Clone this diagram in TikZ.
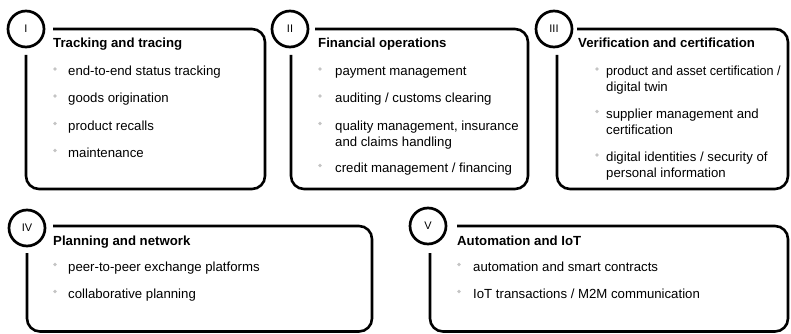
\documentclass[tikz,border=0pt]{standalone}
\usepackage{fontspec}
\usepackage{graphicx}
\setmainfont{Liberation Sans}
\definecolor{dotgrey}{HTML}{C4C4C4}
\newcommand\twolines[2]{\vtop{\hbox{\strut #1}\hbox{\strut #2}}}
\begin{document}
\begin{tikzpicture}[x=1pt,y=-1pt,
  frame/.style={line width=2.6pt, rounded corners=13pt},
  numcirc/.style={circle, draw, line width=2.7pt, minimum size=36pt, inner sep=0pt,
    font=\fontsize{11}{12}\selectfont},
  title/.style={anchor=base west, inner sep=0pt, font=\fontsize{13.2}{16}\selectfont\bfseries},
  item/.style={anchor=base west, inner sep=0pt, font=\fontsize{13.2}{16}\selectfont},
  dot/.style={circle, fill=dotgrey, minimum size=3.6pt, inner sep=0pt}]
\useasboundingbox (0,0) rectangle (791,334);
% Box I
\draw[frame] (53,29) -- (265,29) -- (265,189) -- (26,189) -- (26,55);
\node[numcirc] (c1) at (26,29) {I};
\node[title] (t1) at (53,48) {Tracking and tracing};
\node[dot] (d11) at (55,69) {}; \node[item] (i11) at (68,75.5) {end-to-end status tracking};
\node[dot] (d12) at (55,96) {}; \node[item] (i12) at (68,102.5) {goods origination};
\node[dot] (d13) at (55,123.5) {}; \node[item] (i13) at (68,130) {product recalls};
\node[dot] (d14) at (55,150.5) {}; \node[item] (i14) at (68,157) {maintenance};
% Box II
\draw[frame] (315,29) -- (528,29) -- (528,189) -- (291,189) -- (291,55);
\node[numcirc] (c2) at (290,29) {II};
\node[title] (t2) at (318,48) {Financial operations};
\node[dot] (d21) at (320,69) {}; \node[item] (i21) at (335,75.5) {payment management};
\node[dot] (d22) at (320,96) {}; \node[item] (i22) at (335,102.5) {auditing / customs clearing};
\node[dot] (d23) at (320,123.5) {}; \node[item] (i23) at (335,130) {\twolines{quality management, insurance}{and claims handling}};
\node[dot] (d24) at (320,165.5) {}; \node[item] (i24) at (335,172) {credit management / financing};
% Box III
\draw[frame] (577,29) -- (788,29) -- (788,189) -- (557,189) -- (557,55);
\node[numcirc] (c3) at (554,29) {III};
\node[title] (t3) at (578,48) {Verification and certification};
\node[dot] (d31) at (597,69) {}; \node[item] (i31) at (606,75.5) {\twolines{\scalebox{0.955}[1]{product and asset certification /}}{digital twin}};
\node[dot] (d32) at (597,111.5) {}; \node[item] (i32) at (606,118) {\twolines{supplier management and}{certification}};
\node[dot] (d33) at (597,155) {}; \node[item] (i33) at (606,161.5) {\twolines{digital identities / security of}{personal information}};
% Box IV
\draw[frame] (53,226) -- (372,226) -- (372,331.5) -- (27,331.5) -- (27,253);
\node[numcirc] (c4) at (27,228) {IV};
\node[title] (t4) at (53,245) {Planning and network};
\node[dot] (d41) at (55,264.5) {}; \node[item] (i41) at (68,271) {peer-to-peer exchange platforms};
\node[dot] (d42) at (55,291.5) {}; \node[item] (i42) at (68,298) {collaborative planning};
% Box V
\draw[frame] (457,226) -- (788,226) -- (788,331.5) -- (430,331.5) -- (430,253);
\node[numcirc] (c5) at (428,226) {V};
\node[title] (t5) at (457,245) {Automation and IoT};
\node[dot] (d51) at (459,264.5) {}; \node[item] (i51) at (473,271) {automation and smart contracts};
\node[dot] (d52) at (459,291.5) {}; \node[item] (i52) at (473,298) {IoT transactions / M2M communication};
\end{tikzpicture}
\end{document}
